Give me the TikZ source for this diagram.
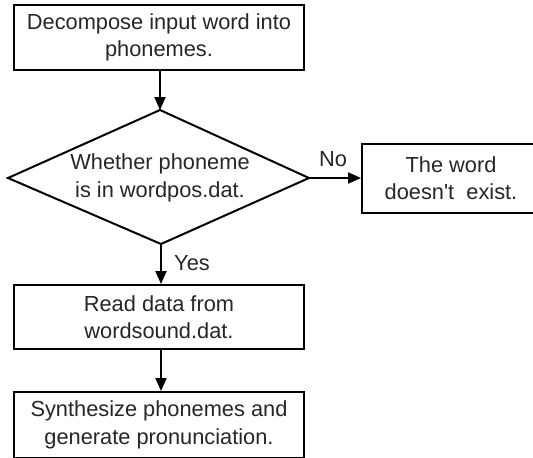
\documentclass[tikz,border=0pt]{standalone}
\usepackage{fontspec}
\setmainfont{Liberation Sans}[Ligatures=TeXOff]
\usetikzlibrary{arrows.meta}
\begin{document}
\begin{tikzpicture}[x=1pt,y=-1pt,
  every node/.style={font=\fontsize{21.8}{27.5}\selectfont, text=black!85},
  box/.style={draw, line width=2pt, align=center, inner sep=0pt},
  conn/.style={line width=2pt, -{Triangle[width=11pt,length=13pt]}},
  lbl/.style={inner sep=0pt}]
\useasboundingbox (0,0) rectangle (533,458);
\node[box, minimum width=290pt, minimum height=65pt] (b1) at (159,37.5) {Decompose input word into\\phonemes.};
\coordinate (dtop) at (160,110);
\coordinate (dbot) at (161,244);
\coordinate (dleft) at (8,178);
\coordinate (dright) at (309,178);
\draw[line width=2pt, line join=miter] (dtop) -- (dright) -- (dbot) -- (dleft) -- cycle;
\node[lbl, align=center] (dtext) at (160,178) {Whether phoneme\\is in wordpos.dat.};
\node[box, minimum width=178pt, minimum height=69pt] (b2) at (451,178) {The word\\doesn't\ \ exist.};
\node[box, minimum width=290pt, minimum height=64pt] (b3) at (159,317) {Read data from\\wordsound.dat.};
\node[box, minimum width=290pt, minimum height=66pt] (b4) at (159,425) {Synthesize phonemes and\\generate pronunciation.};
\draw[conn] (b1.south -| dtop) -- (dtop);
\draw[conn] (dright) -- (b2.west);
\draw[conn] (dbot) -- (b3.north -| dbot);
\draw[conn] (b3.south -| dbot) -- (b4.north -| dbot);
\node[lbl] (no) at (333,159) {No};
\node[lbl] (yes) at (192,263) {Yes};
\end{tikzpicture}
\end{document}
